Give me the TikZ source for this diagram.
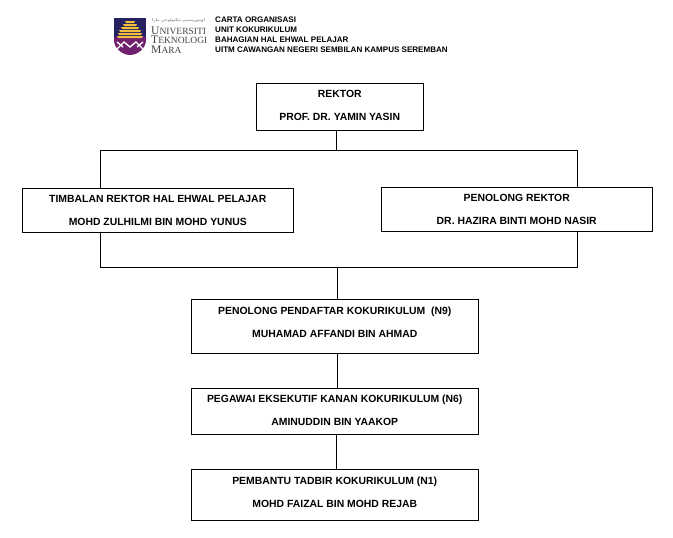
\documentclass[tikz,border=0pt]{standalone}
\usepackage{fontspec}
\setmainfont{Liberation Sans}
\newfontfamily\logofont{Liberation Serif}
\newfontfamily\jawifont[Script=Arabic]{DejaVu Sans}
\TeXXeTstate=1
\usetikzlibrary{positioning,calc}
\definecolor{logonavy}{RGB}{38,34,98}
\definecolor{logopurple}{RGB}{112,32,110}
\definecolor{logogold}{RGB}{240,190,60}
\definecolor{logogrey}{RGB}{70,66,72}
\newcommand{\boxpad}[1]{\rule[-#1]{0pt}{#1}}
\newcommand{\capfirst}[2]{{\fontsize{11.6}{9.5}\selectfont #1\fontsize{9.5}{9.5}\selectfont #2}}
\tikzset{
    orgbox/.style={draw, line width=0.9pt, fill=white, align=center, font=\bfseries\fontsize{10.4}{23}\selectfont, inner sep=0pt},
    orgline/.style={draw, line width=0.9pt},
    headline/.style={anchor=west, inner sep=0pt, font=\bfseries\fontsize{8.05}{10}\selectfont},
    logotext/.style={anchor=west, inner sep=0pt, align=left, text=logogrey, font=\logofont\fontsize{11.6}{9.5}\selectfont}
}
\begin{document}
\begin{tikzpicture}[x=1pt,y=-1pt]
    \useasboundingbox (0,0) rectangle (673,538);

    % logo
    \fill[logonavy] (114,18) rectangle (146,38);
    \fill[logopurple] (114,37) -- (146,37) -- (146,40) .. controls (146,49) and (137,55) .. (130,55) .. controls (123,55) and (114,49) .. (114,40) -- cycle;
    \foreach \y/\w in {21/5,24/7,27/9,30/11,33/12,36/13}
        \fill[logogold] (130-\w,\y) -- (130+\w,\y) -- (130+\w-1,\y+2) -- (130-\w+1,\y+2) -- cycle;
    \draw[white, line width=1.4pt] (117,49) -- (124,42) -- (130,47) -- (136,42) -- (143,49);
    \draw[white, line width=1.4pt] (117,42) -- (123,47) (143,42) -- (137,47);
    \node[logotext, text=logogrey!55, font=\jawifont\bfseries\fontsize{3.9}{6}\selectfont] (jawi) at (152,20.5) {\beginR اونيورسيتي تيكنولوجي مارا\endR};
    \node[logotext] (uitm) at (151,40) {\capfirst{U}{NIVERSITI}\\\capfirst{T}{EKNOLOGI}\\\capfirst{M}{ARA}};

    % heading
    \node[headline] (head1) at (215,19.5) {CARTA ORGANISASI};
    \node[headline] (head2) at (215,29.5) {UNIT KOKURIKULUM};
    \node[headline] (head3) at (215,39.5) {BAHAGIAN HAL EHWAL PELAJAR};
    \node[headline] (head4) at (215,49.5) {UITM CAWANGAN NEGERI SEMBILAN KAMPUS SEREMBAN};

    % boxes
    \node[orgbox, minimum width=167.5pt, minimum height=47pt] (rektor) at (339.75,106.5) {REKTOR\\PROF. DR. YAMIN YASIN\boxpad{2pt}};
    \node[orgbox, minimum width=271.5pt, minimum height=44pt] (timbalan) at (157.75,210) {TIMBALAN REKTOR HAL EHWAL PELAJAR\\MOHD ZULHILMI BIN MOHD YUNUS};
    \node[orgbox, minimum width=271.5pt, minimum height=44pt] (penolong) at (516.75,209) {PENOLONG REKTOR\\DR. HAZIRA BINTI MOHD NASIR};
    \node[orgbox, minimum width=287.5pt, minimum height=54pt] (pendaftar) at (334.75,326) {PENOLONG PENDAFTAR KOKURIKULUM\ \ (N9)\\MUHAMAD AFFANDI BIN AHMAD\boxpad{8pt}};
    \node[orgbox, minimum width=287.5pt, minimum height=46pt] (pegawai) at (334.75,411) {PEGAWAI EKSEKUTIF KANAN KOKURIKULUM (N6)\\AMINUDDIN BIN YAAKOP\boxpad{1pt}};
    \node[orgbox, minimum width=287.5pt, minimum height=51pt] (pembantu) at (334.75,494.5) {PEMBANTU TADBIR KOKURIKULUM (N1)\\MOHD FAIZAL BIN MOHD REJAB\boxpad{5pt}};

    % connectors
    \coordinate (topleft) at (100,150);
    \coordinate (topright) at (577,150);
    \coordinate (topjoin) at (336,150);
    \coordinate (lowleft) at (100,267);
    \coordinate (lowright) at (577,267);
    \coordinate (lowjoin) at (337,267);
    \draw[orgline] (rektor.south -| topjoin) -- (topjoin);
    \draw[orgline] (timbalan.north -| topleft) -- (topleft) -- (topright) -- (penolong.north -| topright);
    \draw[orgline] (timbalan.south -| lowleft) -- (lowleft) -- (lowright) -- (penolong.south -| lowright);
    \draw[orgline] (lowjoin) -- (pendaftar.north -| lowjoin);
    \draw[orgline] ($(pendaftar.south)+(3,0)$) -- ($(pegawai.north)+(3,0)$);
    \draw[orgline] ($(pegawai.south)+(2,0)$) -- ($(pembantu.north)+(2,0)$);
\end{tikzpicture}
\end{document}
